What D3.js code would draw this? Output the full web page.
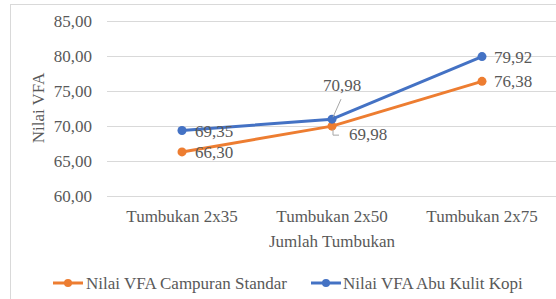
<!DOCTYPE html>
<html><head><meta charset="utf-8">
<script src="https://cdn.jsdelivr.net/npm/d3@7"></script>
<style>body{margin:0;background:#fff}svg{display:block}</style>
</head><body><svg id="c" width="556" height="299"></svg>
<script>
const categories = ["Tumbukan 2x35","Tumbukan 2x50","Tumbukan 2x75"];
const standar = [66.30, 69.98, 76.38];
const kopi = [69.35, 70.98, 79.92];
const yTicks = [60,65,70,75,80,85];
const seriesNames = ["Nilai VFA Campuran Standar","Nilai VFA Abu Kulit Kopi"];
const colors = ["#ED7D31","#4472C4"];
const FONT = "'Liberation Serif', 'DejaVu Serif', serif";
const FS = "17px";

const svg = d3.select("#c").attr("font-family",FONT);
svg.append("rect").attr("x",10.5).attr("y",4.5).attr("width",560).attr("height",310)
  .attr("fill","none").attr("stroke","#d9d9d9");

const x = d3.scaleBand().domain(categories).range([107,557]);
const y = d3.scaleLinear().domain([60,85]).range([196,21]);
const fmt = v => d3.format(".2f")(v).replace(".",",");

const yAxis = svg.append("g").attr("transform","translate(107,0)")
  .call(d3.axisLeft(y).tickValues(yTicks).tickSize(-450).tickFormat(fmt))
  .attr("font-family",FONT);
yAxis.select(".domain").remove();
yAxis.selectAll("line").attr("stroke","#d9d9d9").attr("stroke-width",1);
yAxis.selectAll("text").attr("x",-15).attr("font-size",FS).attr("fill","#595959");

const xAxis = svg.append("g").attr("transform","translate(0,196)")
  .call(d3.axisBottom(x).tickSize(0)).attr("font-family",FONT);
xAxis.select(".domain").remove();
xAxis.selectAll("text").attr("dy",0).attr("y",26).attr("font-size",FS).attr("fill","#595959");

svg.append("text").attr("transform","translate(44,108) rotate(-90)").attr("text-anchor","middle")
  .attr("font-size",FS).attr("fill","#595959").text("Nilai VFA");
svg.append("text").attr("x",332).attr("y",247).attr("text-anchor","middle")
  .attr("font-size",FS).attr("fill","#595959").text("Jumlah Tumbukan");

const cx = c => x(c) + x.bandwidth()/2;
const line = d3.line().x((d,i)=>cx(categories[i])).y(d=>y(d));
[standar,kopi].forEach((s,k)=>{
  svg.append("path").datum(s).attr("d",line).attr("fill","none")
    .attr("stroke",colors[k]).attr("stroke-width",3).attr("stroke-linejoin","round");
  svg.selectAll(null).data(s).enter().append("circle")
    .attr("cx",(d,i)=>cx(categories[i])).attr("cy",d=>y(d)).attr("r",4.5).attr("fill",colors[k]);
});

function lab(xp,yp,t,anchor){svg.append("text").attr("x",xp).attr("y",yp).attr("font-size",FS)
  .attr("fill","#595959").attr("text-anchor",anchor||"start").text(t);}
lab(cx(categories[0])+13, y(kopi[0])+6, fmt(kopi[0]));
lab(cx(categories[0])+13, y(standar[0])+6, fmt(standar[0]));
lab(cx(categories[1])+10, y(kopi[1])-28, fmt(kopi[1]),"middle");
lab(cx(categories[1])+17, y(standar[1])+14, fmt(standar[1]));
lab(cx(categories[2])+12, y(kopi[2])+6, fmt(kopi[2]));
lab(cx(categories[2])+12, y(standar[2])+6, fmt(standar[2]));
svg.append("path").attr("d",`M${cx(categories[1])+1},${y(kopi[1])-2} L${cx(categories[1])+9},${y(kopi[1])-20}`)
  .attr("stroke","#a6a6a6").attr("fill","none");
svg.append("path").attr("d",`M${cx(categories[1])+1},${y(standar[1])+3} L${cx(categories[1])+1},${y(standar[1])+9} L${cx(categories[1])+7},${y(standar[1])+9}`)
  .attr("stroke","#a6a6a6").attr("fill","none");

const leg = [[53,86],[311,343]];
leg.forEach((p,k)=>{
  svg.append("line").attr("x1",p[0]).attr("x2",p[0]+30).attr("y1",283).attr("y2",283)
    .attr("stroke",colors[k]).attr("stroke-width",3);
  svg.append("circle").attr("cx",p[0]+15).attr("cy",283).attr("r",4).attr("fill",colors[k]);
  svg.append("text").attr("x",p[1]).attr("y",289).attr("font-size",FS).attr("fill","#595959").text(seriesNames[k]);
});
</script></body></html>
